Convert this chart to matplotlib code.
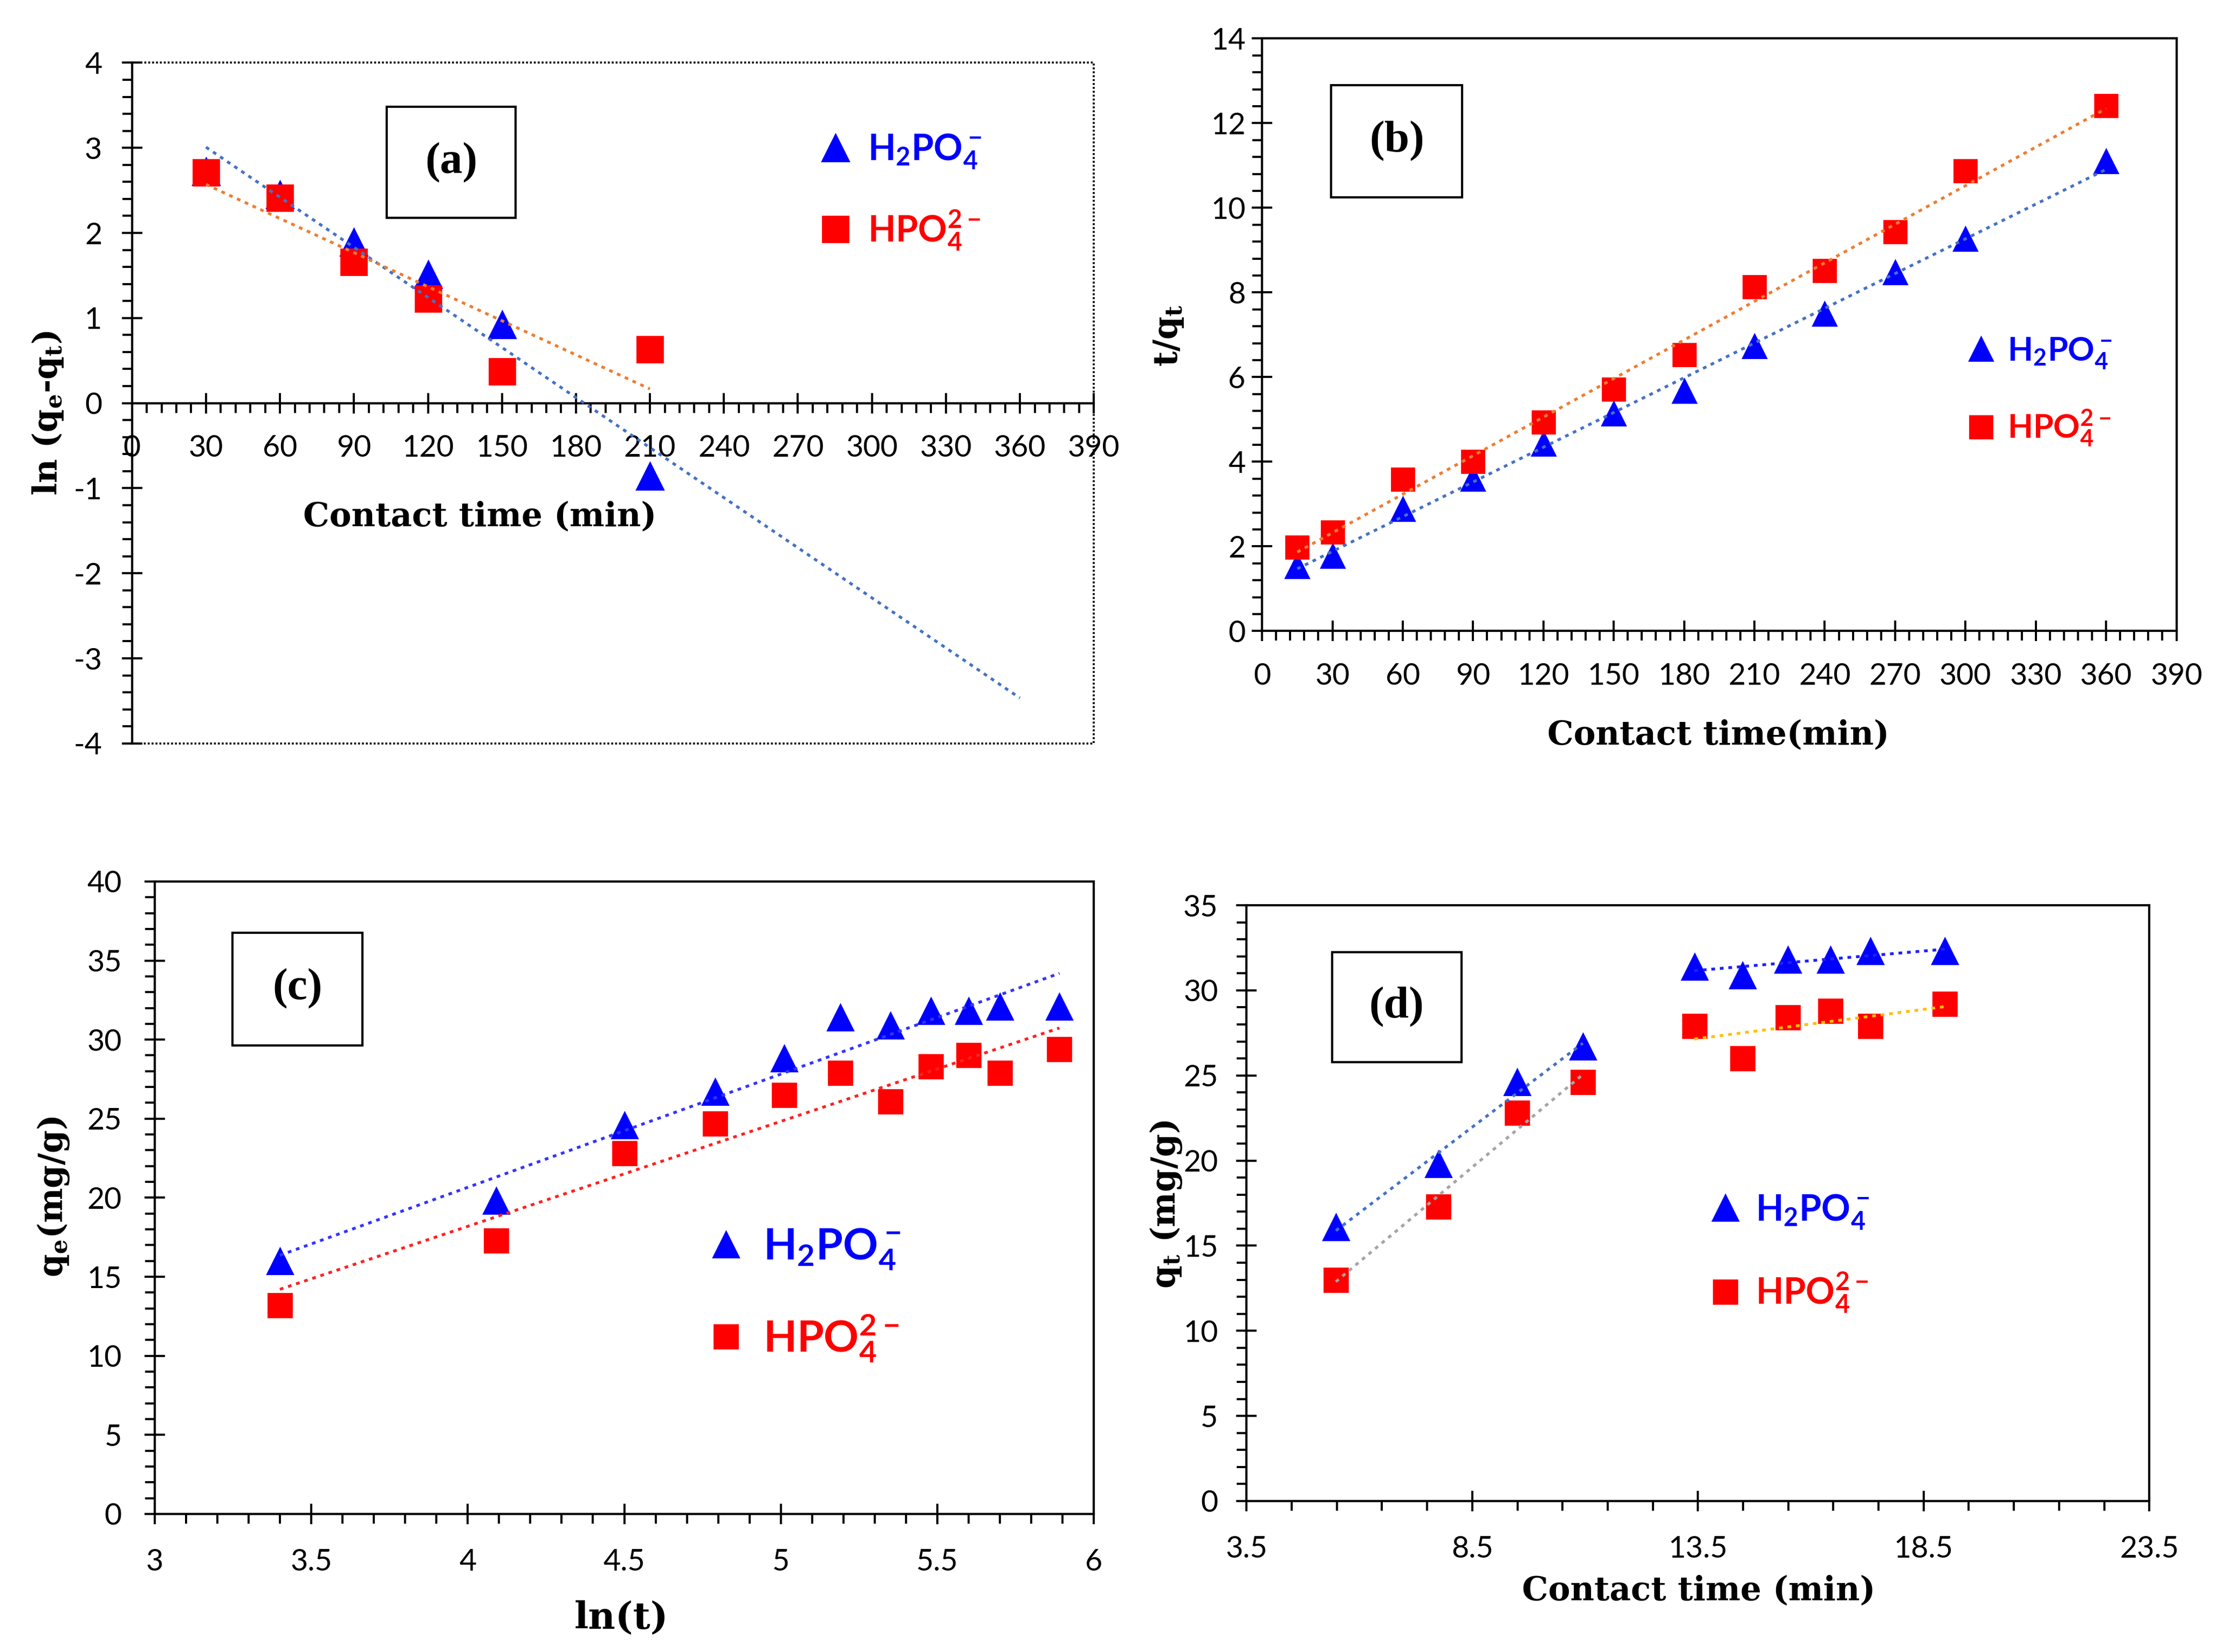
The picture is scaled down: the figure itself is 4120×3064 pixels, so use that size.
import numpy as np
import matplotlib
matplotlib.use('Agg')
import matplotlib.pyplot as plt
from matplotlib.patches import Rectangle
from matplotlib.ticker import MultipleLocator, FormatStrFormatter

# ---- data ----
# (a) pseudo-first-order: ln(qe-qt) vs t
t_a = [30, 60, 90, 120, 150, 210]
a_h2po4 = [2.72, 2.45, 1.89, 1.51, 0.92, -0.86]
a_hpo4 = [2.71, 2.41, 1.66, 1.23, 0.37, 0.63]

# (b) pseudo-second-order: t/qt vs t
t_b = [15, 30, 60, 90, 120, 150, 180, 210, 240, 270, 300, 360]
b_h2po4 = [1.54, 1.77, 2.89, 3.60, 4.43, 5.14, 5.67, 6.73, 7.50, 8.48, 9.27, 11.1]
b_hpo4 = [1.98, 2.34, 3.58, 4.00, 4.94, 5.71, 6.53, 8.13, 8.51, 9.43, 10.87, 12.41]

# (c) Elovich: qe vs ln(t)
lnt_c = [3.40, 4.09, 4.50, 4.79, 5.01, 5.19, 5.35, 5.48, 5.60, 5.70, 5.89]
c_h2po4 = [16.0, 19.8, 24.6, 26.7, 28.8, 31.4, 30.9, 31.8, 31.8, 32.1, 32.1]
c_hpo4 = [13.2, 17.3, 22.8, 24.7, 26.5, 27.9, 26.1, 28.3, 29.0, 27.9, 29.4]

# (d) intraparticle diffusion: qt vs t^0.5
sqt_d = [5.48, 7.75, 9.49, 10.95, 13.42, 14.49, 15.49, 16.43, 17.32, 18.97]
d_h2po4 = [16.1, 19.8, 24.6, 26.7, 31.4, 30.9, 31.8, 31.8, 32.3, 32.3]
d_hpo4 = [13.0, 17.3, 22.8, 24.6, 27.9, 26.0, 28.4, 28.8, 27.9, 29.2]

lab_h2 = r'$\mathregular{H_2PO_4^-}$'
lab_h = r'$\mathregular{HPO_4^{2-}}$'

BLUE = '#0000ff'
RED = '#ff0000'
DPI = 200
W, H = 20.6, 15.32

fig = plt.figure(figsize=(W, H), dpi=DPI)

tickfont = 'Lato'
labfont = 'DejaVu Serif'


def trend(ax, x, y, color, x0=None, x1=None):
    k, b = np.polyfit(x, y, 1)
    x0 = min(x) if x0 is None else x0
    x1 = max(x) if x1 is None else x1
    xx = np.array([x0, x1])
    ax.plot(xx, k * xx + b, color=color, lw=1.9, ls=(0, (1.3, 1.7)),
            dash_capstyle='butt', zorder=4, label='_nolegend_')


def points(ax, x, yh2, yh, ms=17):
    ax.plot(x, yh2, ls='none', marker='^', ms=ms, color=BLUE, mec=BLUE, zorder=3, label=lab_h2)
    ax.plot(x, yh, ls='none', marker='s', ms=ms * 0.95, color=RED, mec=RED, zorder=3, label=lab_h)


def style(ax, xmaj, xmin, ymaj, ymin, xpad, ypad, xoff=0.0):
    ax.xaxis.set_major_locator(MultipleLocator(xmaj, offset=xoff))
    ax.xaxis.set_minor_locator(MultipleLocator(xmin, offset=xoff % xmin))
    ax.yaxis.set_major_locator(MultipleLocator(ymaj))
    ax.yaxis.set_minor_locator(MultipleLocator(ymin))
    ax.xaxis.set_major_formatter(FormatStrFormatter('%g'))
    ax.yaxis.set_major_formatter(FormatStrFormatter('%g'))
    ax.tick_params(which='major', direction='inout', length=14, width=1.4)
    ax.tick_params(which='minor', direction='out', length=6.5, width=1.4)
    ax.tick_params(axis='x', which='major', pad=xpad)
    ax.tick_params(axis='y', which='major', pad=ypad)
    for lb in ax.get_xticklabels() + ax.get_yticklabels():
        lb.set_fontfamily(tickfont)
        lb.set_fontsize(20)
    for s in ax.spines.values():
        s.set_linewidth(1.5)


def label_box(ax, x0, x1, y0, y1, txt):
    ax.add_patch(Rectangle((x0, y0), x1 - x0, y1 - y0, transform=ax.transAxes,
                           fill=False, lw=1.5, ec='black', zorder=5))
    ax.text((x0 + x1) / 2, (y0 + y1) / 2, txt, transform=ax.transAxes, ha='center',
            va='center', fontsize=30, fontweight='bold', family='Liberation Serif', zorder=6)


def legend(ax, mx, ytop, ybot, fs, tx):
    pos = ax.get_position()
    aw = pos.width * W * DPI
    ah = pos.height * H * DPI
    fpx = fs * DPI / 72
    hl = 1.0
    htp = ((tx - mx) * aw - hl * fpx / 2) / fpx
    spacing = (ytop - ybot) * ah / fpx
    leg = ax.legend(loc='center left', bbox_to_anchor=(mx - hl * fpx / 2 / aw, (ytop + ybot) / 2),
                    frameon=False, borderpad=0, borderaxespad=0, handlelength=hl,
                    handletextpad=htp, labelspacing=spacing - 1.3, labelcolor='markerfacecolor',
                    prop={'family': 'Lato', 'weight': 'bold', 'size': fs})
    leg.set_zorder(6)


# ---------------- (a) ----------------
ax = fig.add_axes([0.0594, 0.55, 0.4329, 0.412])
points(ax, t_a, a_h2po4, a_hpo4, ms=18)
trend(ax, t_a, a_h2po4, '#4472c4', 30, 360)
trend(ax, t_a, a_hpo4, '#ed7d31', 30, 210)
ax.set_xlim(0, 390)
ax.set_ylim(-4, 4)
ax.spines['bottom'].set_position(('data', 0))
ax.spines['top'].set_visible(False)
ax.spines['right'].set_visible(False)
ax.add_patch(Rectangle((0, 0), 1, 1, transform=ax.transAxes, fill=False, lw=1.3,
                       ls=(0, (1.0, 1.0)), ec='black', clip_on=False, zorder=1))
style(ax, 30, 6, 1, 0.2, 14, 13)
ax.text(0.3615, 0.333, 'Contact time (min)', transform=ax.transAxes, ha='center', va='center',
        fontsize=22, fontweight='bold', family=labfont)
label_box(ax, 0.265, 0.399, 0.772, 0.935, '(a)')
legend(ax, 0.731, 0.872, 0.748, 24, 0.765)
fig.text(0.0216, 0.75, r'ln (q$_\mathregular{e}$-q$_\mathregular{t}$)', rotation=90, ha='center',
         va='center', fontsize=22, fontweight='bold', family=labfont)

# ---------------- (b) ----------------
ax = fig.add_axes([0.568, 0.618, 0.4115, 0.3587])
points(ax, t_b, b_h2po4, b_hpo4, ms=16)
trend(ax, t_b, b_h2po4, '#4472c4')
trend(ax, t_b, b_hpo4, '#ed7d31')
ax.set_xlim(0, 390)
ax.set_ylim(0, 14)
style(ax, 30, 6, 2, 0.4, 14, 4)
label_box(ax, 0.0756, 0.219, 0.732, 0.921, '(b)')
legend(ax, 0.786, 0.471, 0.335, 22, 0.815)
fig.text(0.7733, 0.555, 'Contact time(min)', ha='center', va='center', fontsize=22,
         fontweight='bold', family=labfont)
fig.text(0.526, 0.797, r't/q$_\mathregular{t}$', rotation=90, ha='center', va='center',
         fontsize=22, fontweight='bold', family=labfont)

# ---------------- (c) ----------------
ax = fig.add_axes([0.0696, 0.0836, 0.4227, 0.3828])
points(ax, lnt_c, c_h2po4, c_hpo4, ms=17)
trend(ax, lnt_c, c_h2po4, '#3333ff')
trend(ax, lnt_c, c_hpo4, '#ff2020')
ax.set_xlim(3, 6)
ax.set_ylim(0, 40)
style(ax, 0.5, 0.1, 5, 1, 16, 15)
label_box(ax, 0.0827, 0.221, 0.741, 0.919, '(c)')
legend(ax, 0.608, 0.422, 0.269, 29, 0.648)
fig.text(0.2797, 0.0206, 'ln(t)', ha='center', va='center', fontsize=25,
         fontweight='bold', family=labfont)
fig.text(0.024, 0.2755, r'q$_\mathregular{e}$(mg/g)', rotation=90, ha='center', va='center',
         fontsize=22, fontweight='bold', family=labfont)

# ---------------- (d) ----------------
ax = fig.add_axes([0.561, 0.0914, 0.4063, 0.3606])
points(ax, sqt_d, d_h2po4, d_hpo4, ms=17)
trend(ax, sqt_d[:4], d_h2po4[:4], '#4472c4')
trend(ax, sqt_d[4:], d_h2po4[4:], '#1f1fff')
trend(ax, sqt_d[:4], d_hpo4[:4], '#a5a5a5')
trend(ax, sqt_d[4:], d_hpo4[4:], '#ffc000')
ax.set_xlim(3.5, 23.5)
ax.set_ylim(0, 35)
style(ax, 5, 1, 5, 1, 16, 12, xoff=3.5)
label_box(ax, 0.0946, 0.238, 0.737, 0.921, '(d)')
legend(ax, 0.530, 0.488, 0.343, 24, 0.564)
fig.text(0.7646, 0.0372, 'Contact time (min)', ha='center', va='center', fontsize=22,
         fontweight='bold', family=labfont)
fig.text(0.5248, 0.271, r'q$_\mathregular{t}$ (mg/g)', rotation=90, ha='center', va='center',
         fontsize=22, fontweight='bold', family=labfont)

fig.savefig('out.png', dpi=DPI, facecolor='white')
